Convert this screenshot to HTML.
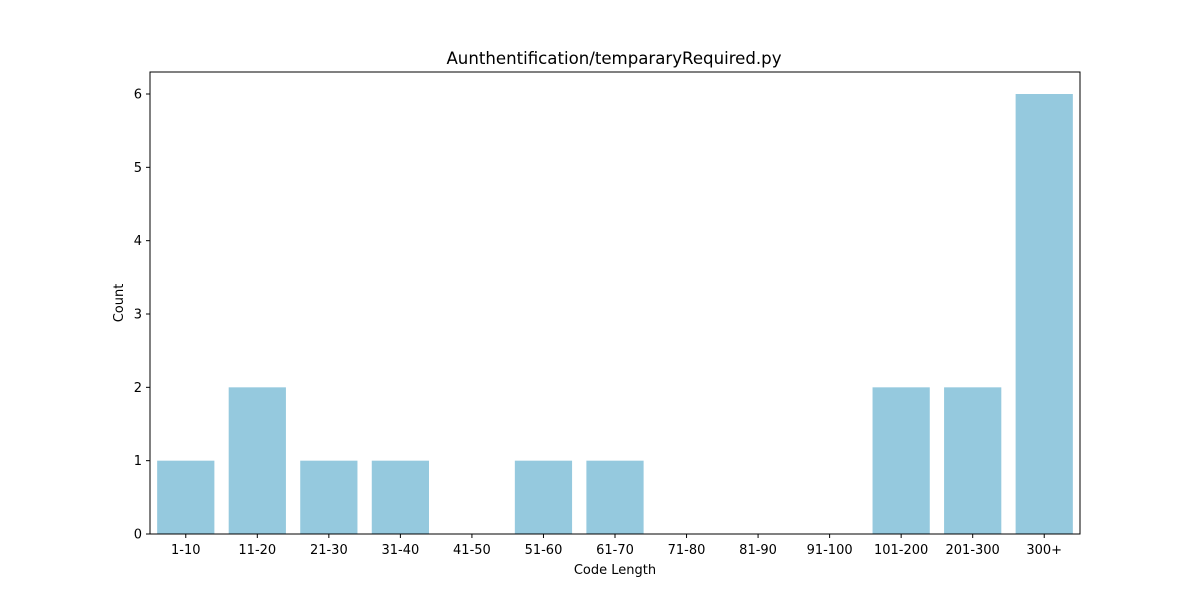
<!DOCTYPE html>
<html><head><meta charset="utf-8"><style>
body{margin:0;background:#fff;font-family:"Liberation Sans","DejaVu Sans",sans-serif;}
svg text{font-family:"DejaVu Sans","Liberation Sans",sans-serif;}
</style></head><body>
<svg id="chart" width="1200" height="600" xmlns="http://www.w3.org/2000/svg">
<rect width="1200" height="600" fill="#fff"/>
<g id="bars"></g>
<g id="axes"></g>
<text x="614" y="64" font-size="16.6" text-anchor="middle">Aunthentification/tempararyRequired.py</text>
<text x="615" y="574" font-size="13" text-anchor="middle">Code Length</text>
<text transform="translate(123,303) rotate(-90)" font-size="13" text-anchor="middle">Count</text>
</svg>
<script>
const categories=["1-10","11-20","21-30","31-40","41-50","51-60","61-70","71-80","81-90","91-100","101-200","201-300","300+"];
const counts=[1,2,1,1,0,1,1,0,0,0,2,2,6];
const yTicks=[0,1,2,3,4,5,6];
const L=150,R=1080,T=72,B=534,yMax=6.3;
const NS="http://www.w3.org/2000/svg";
const step=(R-L)/categories.length;
const xPos=i=>L+step*(i+0.5);
const yPos=v=>B-(v/yMax)*(B-T);
const bars=document.getElementById('bars'),axes=document.getElementById('axes');
function mk(t,a,p){const e=document.createElementNS(NS,t);for(const k in a)e.setAttribute(k,a[k]);p.appendChild(e);return e;}
counts.forEach((v,i)=>{
 const r=mk('rect',{x:xPos(i)-step*0.4,y:yPos(v),width:step*0.8,height:B-yPos(v),fill:'#95c9de'},bars);
 
 
});
const frame=mk('rect',{x:L,y:T,width:R-L,height:B-T,fill:'none',stroke:'#000','stroke-width':1},axes);


yTicks.forEach(v=>{
 const y=yPos(v);
 mk('line',{x1:L-4,x2:L,y1:y,y2:y,stroke:'#000'},axes);
 const t=mk('text',{x:L-8,y:y+4.5,'font-size':13,'text-anchor':'end'},axes);
 t.textContent=v;
 
 
});
categories.forEach((c,i)=>{
 const x=xPos(i);
 mk('line',{x1:x,x2:x,y1:B,y2:B+4,stroke:'#000'},axes);
 const t=mk('text',{x:x,y:B+20,'font-size':13,'text-anchor':'middle'},axes);
 t.textContent=c;
 
 
});
</script>
</body></html>
